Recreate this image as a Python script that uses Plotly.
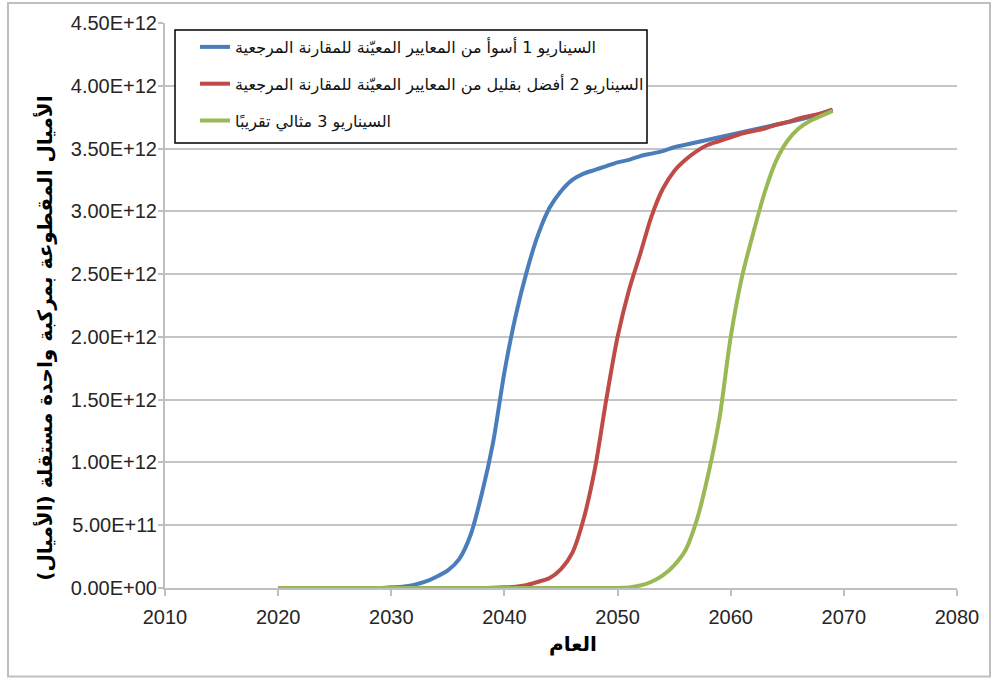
import plotly.graph_objects as go

# Years and cumulative autonomous-vehicle miles (trillions of miles) per scenario
years = list(range(2020, 2070))

scenario1 = [0, 0, 0, 0, 0, 0, 0, 0, 0, 0,
             0.005, 0.01, 0.025, 0.05, 0.09, 0.14, 0.23, 0.42, 0.75, 1.16,
             1.72, 2.17, 2.53, 2.82, 3.03, 3.16, 3.25, 3.30, 3.33, 3.36,
             3.39, 3.41, 3.44, 3.46, 3.48, 3.51, 3.53, 3.55, 3.57, 3.59,
             3.61, 3.63, 3.65, 3.67, 3.69, 3.71, 3.73, 3.75, 3.78, 3.81]

scenario2 = [0, 0, 0, 0, 0, 0, 0, 0, 0, 0,
             0, 0, 0, 0, 0, 0, 0, 0, 0, 0.002,
             0.005, 0.01, 0.025, 0.05, 0.08, 0.15, 0.28, 0.55, 0.95, 1.5,
             2.0, 2.37, 2.66, 2.96, 3.18, 3.32, 3.41, 3.48, 3.53, 3.56,
             3.59, 3.62, 3.64, 3.66, 3.69, 3.71, 3.74, 3.76, 3.78, 3.81]

scenario3 = [0, 0, 0, 0, 0, 0, 0, 0, 0, 0,
             0, 0, 0, 0, 0, 0, 0, 0, 0, 0,
             0, 0, 0, 0, 0, 0, 0, 0, 0, 0,
             0, 0.005, 0.02, 0.05, 0.1, 0.18, 0.3, 0.54, 0.9, 1.35,
             2.0, 2.48, 2.83, 3.15, 3.40, 3.56, 3.66, 3.72, 3.76, 3.80]

UNIT = 1e12

series_names = [
    "السيناريو 1 أسوأ من المعايير المعيّنة للمقارنة المرجعية",
    "السيناريو 2 أفضل بقليل من المعايير المعيّنة للمقارنة المرجعية",
    "السيناريو 3 مثالي تقريبًا",
]
series_colors = ["#4A7EBB", "#BE4B48", "#98B954"]

y_tick_vals = [0, 0.5, 1.0, 1.5, 2.0, 2.5, 3.0, 3.5, 4.0, 4.5]
x_tick_vals = [2010, 2020, 2030, 2040, 2050, 2060, 2070, 2080]

x_title = "العام"
y_title = "الأميال المقطوعة بمركبة واحدة مستقلة (الأميال)"

W, H = 992, 679
ML, MR, MT, MB = 165, 35, 23, 90.5
PW, PH = W - ML - MR, H - MT - MB


def px_x(px):
    return (px - ML) / PW


def px_y(py):
    return (H - MB - py) / PH


fig = go.Figure()
for i, (vals, name, col) in enumerate(zip([scenario1, scenario2, scenario3], series_names, series_colors)):
    fig.add_trace(go.Scatter(
        x=years, y=[v * UNIT for v in vals], name=name, mode="lines",
        line=dict(color=col, width=4, shape="spline", smoothing=0.8),
        legendgroup=f"g{i}",
    ))

tick_font = dict(family="Liberation Sans, Arial", size=20, color="#262626")
arabic = "DejaVu Sans"

fig.update_layout(
    width=W, height=H,
    margin=dict(l=ML, r=MR, t=MT, b=MB),
    paper_bgcolor="white", plot_bgcolor="white",
    showlegend=True,
    legend=dict(
        x=px_x(195), y=px_y(30), xanchor="left", yanchor="top",
        bgcolor="rgba(0,0,0,0)", borderwidth=0,
        font=dict(family=arabic, size=16, color="#111"),
        traceorder="grouped", tracegroupgap=13,
    ),
    xaxis=dict(
        range=[2010, 2080], tickvals=x_tick_vals,
        ticktext=[str(v) for v in x_tick_vals],
        showgrid=False, zeroline=False,
        showline=True, linecolor="#BFBFBF", linewidth=2,
        ticks="outside", ticklen=6, tickcolor="#BFBFBF", tickwidth=2,
        tickfont=tick_font, ticklabelstandoff=4,
    ),
    yaxis=dict(
        range=[0, 4.5 * UNIT], tickvals=[v * UNIT for v in y_tick_vals],
        ticktext=[f"{v * UNIT:.2E}" for v in y_tick_vals],
        showgrid=True, gridcolor="#C4C4C4", gridwidth=2, zeroline=False,
        showline=True, linecolor="#BFBFBF", linewidth=2,
        ticks="outside", ticklen=5, tickcolor="#BFBFBF", tickwidth=2,
        tickfont=tick_font, ticklabelstandoff=-3,
    ),
    shapes=[
        # chart-area frame
        dict(type="rect", xref="paper", yref="paper",
             x0=px_x(8), x1=px_x(990), y0=px_y(677), y1=px_y(3),
             line=dict(color="#BFBFBF", width=2), layer="below"),
        # legend box
        dict(type="rect", xref="paper", yref="paper",
             x0=px_x(175), x1=px_x(647), y0=px_y(143), y1=px_y(30),
             line=dict(color="black", width=1.5), fillcolor="white", layer="above"),
    ],
    annotations=[
        dict(text=f"<b>{x_title}</b>", xref="paper", yref="paper",
             x=px_x(573), y=px_y(645), xanchor="center", yanchor="middle",
             showarrow=False, font=dict(family=arabic, size=20, color="black")),
        dict(text=f"<b>{y_title}</b>", xref="paper", yref="paper",
             x=px_x(45), y=px_y(339), xanchor="center", yanchor="middle",
             textangle=-90, showarrow=False,
             font=dict(family=arabic, size=20, color="black")),
    ],
)

fig.write_html("out.html")
